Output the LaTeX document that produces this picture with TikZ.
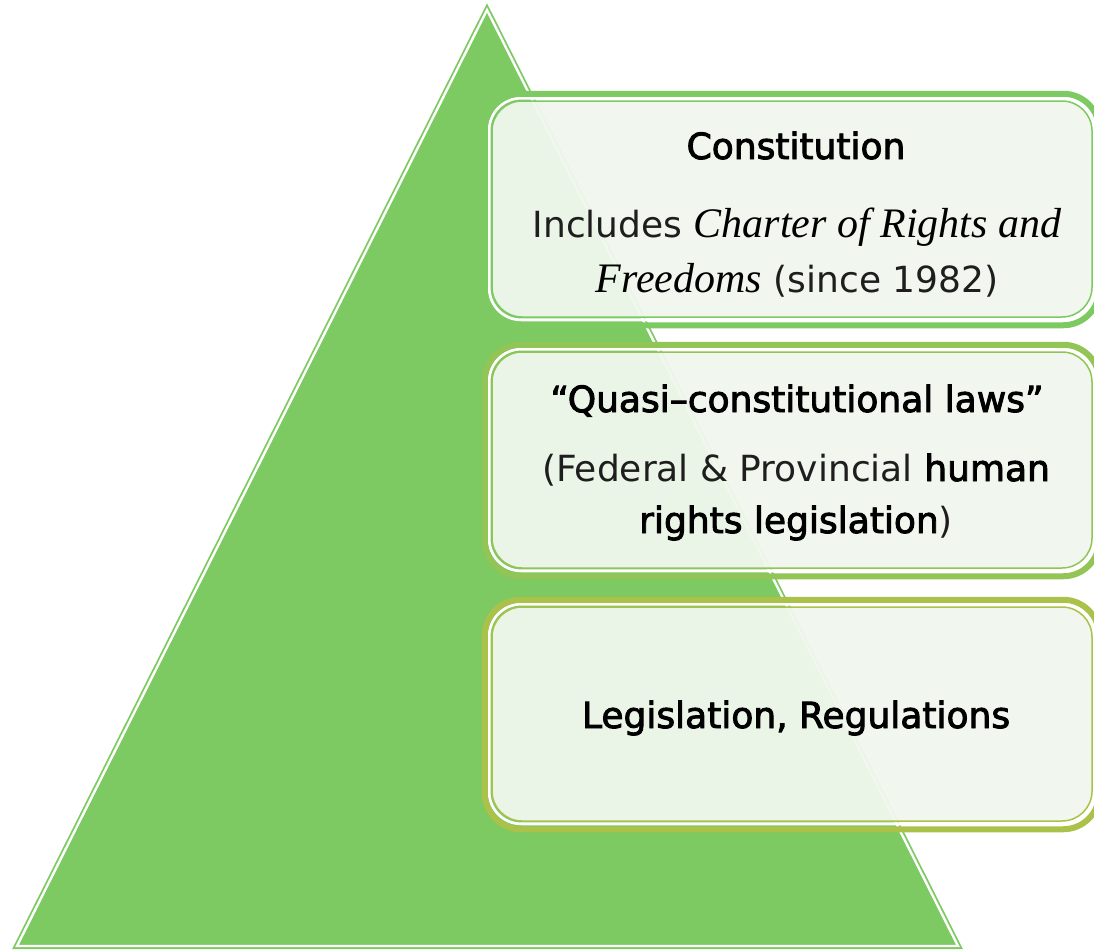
\documentclass[tikz,border=0pt]{standalone}
\usepackage{fontspec}
\usepackage{xcolor}
\usepackage{tikz}

\setmainfont{DejaVu Sans}
\newfontfamily\serifit{Liberation Serif}
% heavier strokes for the emphasised words
\newcommand\strongtext[1]{\special{pdf:literal direct 2 Tr 0.9 w}#1\special{pdf:literal direct 0 Tr}}

\definecolor{trigreen}{RGB}{125,201,98}
\definecolor{greenone}{RGB}{125,201,98}
\definecolor{greentwo}{RGB}{146,196,86}
\definecolor{greenthree}{RGB}{170,193,74}
\definecolor{boxfill}{RGB}{240,247,237}
\definecolor{bodygray}{RGB}{30,30,30}

\begin{document}
\begin{tikzpicture}[x=1pt, y=-1pt,
    box/.style={rectangle, rounded corners=30pt, line width=1.5pt, fill=boxfill, fill opacity=0.96,
        inner sep=0pt, minimum width=600pt, minimum height=216pt},
    txt/.style={anchor=base, inner sep=0pt, text=bodygray, font=\fontsize{36}{43}\selectfont},
    head/.style={txt, text=black}]
    \clip (0,0) rectangle (1094,950);

    % pyramid
    \draw[trigreen, fill=trigreen, line width=1.8pt, double=white, double distance=2.4pt]
        (487,10) -- (958,946) -- (17,946) -- cycle;

    \node[box, draw=greenone] (b1) at (792,209) {};
    \node[box, draw=greentwo] (b2) at (792,460) {};
    \node[box, draw=greenthree, minimum height=214pt] (b3) at (792,714) {};

    \foreach \b/\c in {b1/greenone, b2/greentwo, b3/greenthree} {
        \draw[white, line width=2.8pt, rounded corners=32pt]
            ([shift={(-2.1,-2.1)}]\b.north west) rectangle ([shift={(2.1,2.1)}]\b.south east);
        \draw[\c, line width=6pt, rounded corners=36pt]
            ([shift={(-6.5,-6.5)}]\b.north west) rectangle ([shift={(6.5,7.5)}]\b.south east);
    }

    % texts
    \node[head] (t1) at (796,159) {\strongtext{Constitution}};
    \node[txt] (t1a) at (797,237) {Includes {\serifit\itshape\color{black}\fontsize{42}{50}\selectfont Charter of Rights and}};
    \node[txt] (t1b) at (797,292) {{\serifit\itshape\color{black}\fontsize{42}{50}\selectfont Freedoms} (since 1982)};

    \node[head] (t2) at (797,412) {\strongtext{“Quasi–constitutional laws”}};
    \node[txt] (t2a) at (796,481) {(Federal \& Provincial {\color{black}\strongtext{human}}};
    \node[txt] (t2b) at (796,533) {{\color{black}\strongtext{rights legislation}})};

    \node[head] (t3) at (796,728) {\strongtext{Legislation, Regulations}};
\end{tikzpicture}
\end{document}
